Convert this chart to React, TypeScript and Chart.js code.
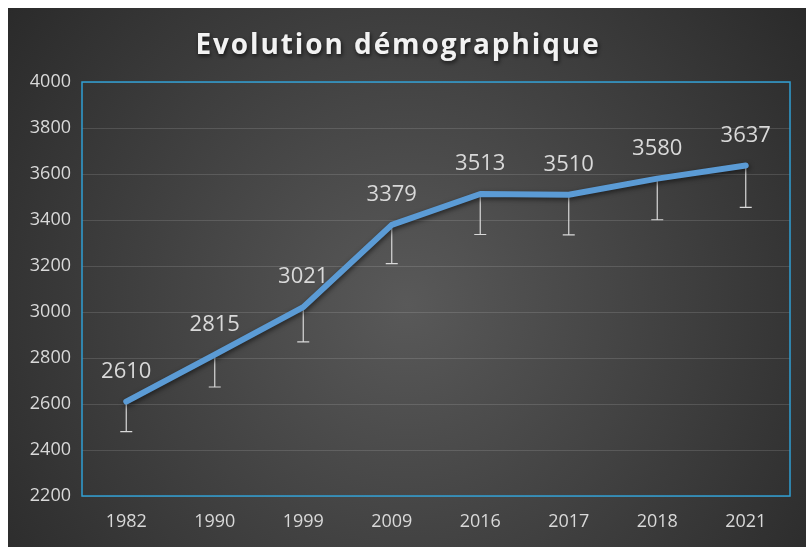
import React, { useEffect, useRef } from "react";
import { Chart, registerables } from "chart.js";

Chart.register(...registerables);

const years = ["1982", "1990", "1999", "2009", "2016", "2017", "2018", "2021"];
const population = [2610, 2815, 3021, 3379, 3513, 3510, 3580, 3637];
const errorLow = [2480, 2674, 2870, 3210, 3337, 3335, 3401, 3455];
const titleText = "Evolution démographique";
const yMin = 2200;
const yMax = 4000;
const yStep = 200;

const FONT = "'Open Sans', 'Noto Sans', sans-serif";
const TEXT = "#d9d9d9";

const bgPlugin = {
  id: "bgPlugin",
  beforeDraw(chart: any) {
    const { ctx, width, height } = chart;
    ctx.save();
    const g = ctx.createRadialGradient(width * 0.5, height * 0.55, 0, width * 0.5, height * 0.55, width * 0.68);
    g.addColorStop(0, "#595959");
    g.addColorStop(0.55, "#3d3d3d");
    g.addColorStop(1, "#262626");
    ctx.fillStyle = g;
    ctx.fillRect(0, 0, width, height);
    // title
    ctx.font = `bold 28px ${FONT}`;
    (ctx as any).letterSpacing = "1.9px";
    ctx.textAlign = "center";
    ctx.textBaseline = "middle";
    ctx.shadowColor = "rgba(0,0,0,0.7)";
    ctx.shadowBlur = 4;
    ctx.shadowOffsetX = 1;
    ctx.shadowOffsetY = 2;
    ctx.fillStyle = "#f2f2f2";
    ctx.fillText(titleText, width / 2 - 9, 38);
    ctx.restore();
  },
};

const frameErrPlugin = {
  id: "frameErrPlugin",
  beforeDatasetsDraw(chart: any) {
    const { ctx, chartArea, scales } = chart;
    ctx.save();
    ctx.strokeStyle = "#2f9fd3";
    ctx.lineWidth = 1.5;
    ctx.strokeRect(chartArea.left, chartArea.top, chartArea.right - chartArea.left, chartArea.bottom - chartArea.top);
    ctx.strokeStyle = "#d9d9d9";
    ctx.lineWidth = 1.2;
    years.forEach((_, i) => {
      const x = scales.x.getPixelForValue(i);
      const y1 = scales.y.getPixelForValue(population[i]);
      const y2 = scales.y.getPixelForValue(errorLow[i]);
      ctx.beginPath();
      ctx.moveTo(x, y1);
      ctx.lineTo(x, y2);
      ctx.moveTo(x - 6, y2);
      ctx.lineTo(x + 6, y2);
      ctx.stroke();
    });
    ctx.restore();
  },
  beforeDatasetDraw(chart: any) {
    const ctx = chart.ctx;
    ctx.save();
    ctx.shadowColor = "rgba(0,0,0,0.55)";
    ctx.shadowBlur = 5;
    ctx.shadowOffsetX = 1;
    ctx.shadowOffsetY = 2;
  },
  afterDatasetDraw(chart: any) {
    chart.ctx.restore();
  },
  afterDatasetsDraw(chart: any) {
    const { ctx, scales } = chart;
    ctx.save();
    ctx.font = `22px ${FONT}`;
    ctx.fillStyle = TEXT;
    ctx.textAlign = "center";
    ctx.textBaseline = "middle";
    population.forEach((v, i) => {
      const x = scales.x.getPixelForValue(i);
      const y = scales.y.getPixelForValue(v);
      ctx.fillText(String(v), x, y - 30);
    });
    ctx.restore();
  },
};

export default function App() {
  const ref = useRef<HTMLCanvasElement>(null);
  useEffect(() => {
    document.body.style.overflow = "hidden";
    document.documentElement.style.overflow = "hidden";
    const chart = new Chart(ref.current!, {
      type: "line",
      data: {
        labels: years,
        datasets: [
          {
            data: population,
            borderColor: "#5b9bd5",
            borderWidth: 6,
            borderCapStyle: "round",
            borderJoinStyle: "round",
            pointRadius: 0,
            tension: 0,
            fill: false,
          },
        ],
      },
      options: {
        animation: false,
        responsive: false,
        events: [],
        layout: { padding: { left: 0, right: 16, top: 74, bottom: 0 } },
        plugins: { legend: { display: false }, tooltip: { enabled: false }, title: { display: false } },
        scales: {
          x: {
            offset: true,
            grid: { display: false, drawTicks: false },
            border: { display: false },
            ticks: { color: TEXT, font: { family: FONT, size: 18 }, padding: 15, maxRotation: 0 },
            afterFit: (s: any) => { s.height = 51; },
          },
          y: {
            min: yMin,
            max: yMax,
            grid: { color: "rgba(255,255,255,0.13)", drawTicks: false, lineWidth: 1 },
            border: { display: false },
            ticks: {
              stepSize: yStep,
              color: TEXT,
              font: { family: FONT, size: 18 },
              padding: 11,
              callback: (v: any) => String(v),
            },
            afterFit: (s: any) => { s.width = 74; },
          },
        },
      },
      plugins: [bgPlugin, frameErrPlugin],
    });
    return () => chart.destroy();
  }, []);
  return (
    <div style={{ position: "absolute", left: 8, top: 8, width: 798, height: 539 }}>
      <canvas ref={ref} width={798} height={539} style={{ display: "block", width: 798, height: 539 }} />
    </div>
  );
}
